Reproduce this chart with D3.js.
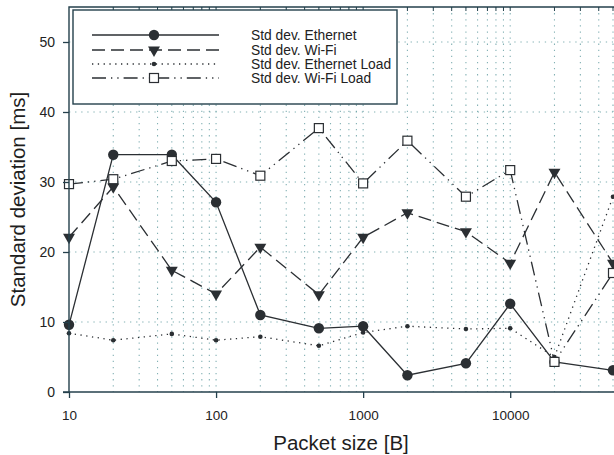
<!DOCTYPE html>
<html>
<head>
<meta charset="utf-8">
<script src="https://cdn.jsdelivr.net/npm/d3@7"></script>
<style>
  body { margin: 0; background: #fff; }
  svg { display: block; font-family: "Liberation Sans", Arial, sans-serif; }
</style>
</head>
<body>
<div id="chart"></div>
<script>
// packet sizes [B]
const packetSizes = [10, 20, 50, 100, 200, 500, 1000, 2000, 5000, 10000, 20000, 50000];

// standard deviation [ms]
const ethernet     = [9.6, 33.9, 33.9, 27.1, 11.0, 9.1, 9.4, 2.4, 4.1, 12.6, 4.3, 3.1];
const wifi         = [22.1, 29.3, 17.4, 14.0, 20.7, 13.9, 22.1, 25.6, 22.9, 18.4, 31.4, 18.4];
const ethernetLoad = [8.4, 7.4, 8.3, 7.4, 7.9, 6.6, 8.5, 9.4, 9.0, 9.1, 5.0, 27.9];
const wifiLoad     = [29.7, 30.4, 33.0, 33.3, 30.9, 37.7, 29.8, 35.9, 27.9, 31.7, 4.3, 17.0];

const xTicks = [10, 100, 1000, 10000];
const yTicks = [0, 10, 20, 30, 40, 50];

const seriesNames = ['Std dev. Ethernet', 'Std dev. Wi-Fi', 'Std dev. Ethernet Load', 'Std dev. Wi-Fi Load'];

const W = 614, H = 455;
const plotLeft = 69, plotRight = 613, plotTop = 7, plotBottom = 392;
const ink = '#2b2f33';
const frame = '#24404c';

const svg = d3.select('#chart').append('svg')
  .attr('width', W)
  .attr('height', H);

const x = d3.scaleLog().domain([10, 50000]).range([plotLeft, plotRight]);
const y = d3.scaleLinear().domain([0, 55]).range([plotBottom, plotTop]);

// minor log positions for grid and top ticks
const minor = [];
for (let dec = 10; dec <= 10000; dec *= 10) {
  for (let k = 1; k <= 9; k++) {
    const v = dec * k;
    if (v <= 50000) minor.push(v);
  }
}

// grid
const grid = svg.append('g');
grid.selectAll('line.v')
  .data(minor.filter(v => v > 10))
  .enter().append('line')
  .attr('x1', d => x(d)).attr('x2', d => x(d))
  .attr('y1', plotTop).attr('y2', plotBottom)
  .attr('stroke', '#5a979c')
  .attr('stroke-width', 1.1)
  .attr('stroke-dasharray', '1.3,4.8')
  .attr('opacity', 0.75);
grid.selectAll('line.h')
  .data(yTicks.filter(v => v > 0))
  .enter().append('line')
  .attr('x1', plotLeft).attr('x2', plotRight)
  .attr('y1', d => y(d)).attr('y2', d => y(d))
  .attr('stroke', '#5a979c')
  .attr('stroke-width', 1.1)
  .attr('stroke-dasharray', '1.3,4.8')
  .attr('opacity', 0.75);

// series
const series = [
  { values: ethernet, dash: null, marker: 'circle' },
  { values: wifi, dash: '13,6', marker: 'triangle' },
  { values: ethernetLoad, dash: '1.3,4.5', marker: 'dot' },
  { values: wifiLoad, dash: '14,5,1.3,5,1.3,5', marker: 'square' }
];

function drawMarker(g, type, cx, cy) {
  if (type === 'circle') {
    g.append('circle').attr('cx', cx).attr('cy', cy).attr('r', 5.2).attr('fill', ink);
  } else if (type === 'triangle') {
    g.append('path')
      .attr('d', d3.symbol().type(d3.symbolTriangle).size(62)())
      .attr('transform', `translate(${cx},${cy}) rotate(180)`)
      .attr('fill', ink);
  } else if (type === 'dot') {
    g.append('circle').attr('cx', cx).attr('cy', cy).attr('r', 2.3).attr('fill', ink);
  } else {
    g.append('rect').attr('x', cx - 4.5).attr('y', cy - 4.5)
      .attr('width', 9).attr('height', 9)
      .attr('fill', '#fff').attr('stroke', ink).attr('stroke-width', 1.2);
  }
}

const line = d3.line()
  .x((d, i) => x(packetSizes[i]))
  .y(d => y(d));

series.forEach(s => {
  const g = svg.append('g');
  g.append('path')
    .datum(s.values)
    .attr('fill', 'none')
    .attr('stroke', ink)
    .attr('stroke-width', 1.3)
    .attr('stroke-dasharray', s.dash)
    .attr('d', line);
  s.values.forEach((v, i) => drawMarker(g, s.marker, x(packetSizes[i]), y(v)));
});

// frame: top and left only, the right side runs off the picture
svg.append('path')
  .attr('d', `M${plotLeft},${plotBottom}V${plotTop}H${W + 2}`)
  .attr('fill', 'none')
  .attr('stroke', frame)
  .attr('stroke-width', 1.4);
svg.append('line')
  .attr('x1', plotLeft - 6).attr('x2', W + 2)
  .attr('y1', plotBottom).attr('y2', plotBottom)
  .attr('stroke', frame)
  .attr('stroke-width', 1.4);

// top minor ticks
svg.append('g').selectAll('line')
  .data(minor.filter(v => v > 10))
  .enter().append('line')
  .attr('x1', d => x(d)).attr('x2', d => x(d))
  .attr('y1', plotTop).attr('y2', plotTop + 4)
  .attr('stroke', frame).attr('stroke-width', 1);

// axes
const xAxis = svg.append('g')
  .attr('transform', `translate(0,${plotBottom})`)
  .call(d3.axisBottom(x).tickValues(xTicks).tickFormat(d3.format('d')).tickSize(6).tickSizeOuter(0).tickPadding(12));
xAxis.select('.domain').remove();
xAxis.selectAll('line').attr('stroke', frame).attr('stroke-width', 1.3);
xAxis.selectAll('text').attr('font-size', 13.5).attr('fill', '#222');
xAxis.attr('font-family', null);

const yAxis = svg.append('g')
  .attr('transform', `translate(${plotLeft},0)`)
  .call(d3.axisLeft(y).tickValues(yTicks).tickSize(6).tickSizeOuter(0).tickPadding(8));
yAxis.select('.domain').remove();
yAxis.selectAll('line').attr('stroke', frame).attr('stroke-width', 1.3);
yAxis.selectAll('text').attr('font-size', 14).attr('fill', '#222');
yAxis.attr('font-family', null);

// axis titles
svg.append('text')
  .attr('x', (plotLeft + plotRight) / 2)
  .attr('y', 450)
  .attr('text-anchor', 'middle')
  .attr('font-size', 20.5)
  .attr('fill', '#1e1e1e')
  .text('Packet size [B]');

svg.append('text')
  .attr('transform', `translate(25,${(plotTop + plotBottom) / 2}) rotate(-90)`)
  .attr('text-anchor', 'middle')
  .attr('font-size', 20.5)
  .attr('fill', '#1e1e1e')
  .text('Standard deviation [ms]');

// legend
const legend = svg.append('g');
legend.append('rect')
  .attr('x', 73).attr('y', 10)
  .attr('width', 324).attr('height', 94)
  .attr('fill', '#fff')
  .attr('stroke', frame)
  .attr('stroke-width', 1.4);

const rowY = [35, 50, 64, 78];
series.forEach((s, i) => {
  const g = legend.append('g');
  g.append('line')
    .attr('x1', 92).attr('x2', 219)
    .attr('y1', rowY[i]).attr('y2', rowY[i])
    .attr('stroke', ink)
    .attr('stroke-width', 1.3)
    .attr('stroke-dasharray', s.dash);
  drawMarker(g, s.marker, 154, rowY[i]);
  g.append('text')
    .attr('x', 251)
    .attr('y', rowY[i] + 5)
    .attr('font-size', 13.8)
    .attr('fill', '#222')
    .text(seriesNames[i]);
});
</script>
</body>
</html>
